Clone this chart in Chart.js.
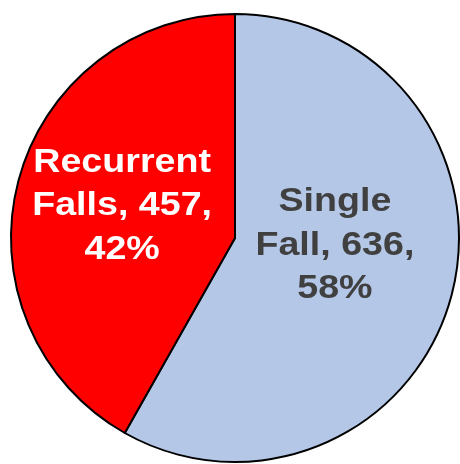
<!DOCTYPE html>
<html lang="en">
<head>
    <meta charset="UTF-8">
    <title>Falls</title>
    <script src="https://cdn.jsdelivr.net/npm/chart.js"></script>
    <style>
        body { margin: 0; background: #fff; }
    </style>
</head>
<body>
<canvas id="pieChart" width="460" height="464"></canvas>
<script>
    // data
    const labels = ['Single Fall', 'Recurrent Falls'];
    const counts = [636, 457];
    const percents = ['58%', '42%'];
    const labelLines = [['Single', 'Fall, 636,', '58%'], ['Recurrent', 'Falls, 457,', '42%']];
    const sliceColors = ['#B4C7E7', '#FF0000'];
    const textColors = ['#404040', '#FFFFFF'];
    // label centre, as fraction of radius from pie centre
    const labelOffsets = [[0.446, 0.022], [-0.504, -0.154]];

    // draws the multi-line labels inside each slice
    const sliceLabels = {
        id: 'sliceLabels',
        afterDatasetsDraw(chart) {
            const ctx = chart.ctx;
            const meta = chart.getDatasetMeta(0);
            const fontSize = 33;
            const lineHeight = 43.5;
            meta.data.forEach((arc, i) => {
                const r = arc.outerRadius;
                const cx = arc.x + labelOffsets[i][0] * r;
                const cy = arc.y + labelOffsets[i][1] * r;
                const lines = labelLines[i];
                ctx.save();
                ctx.fillStyle = textColors[i];
                ctx.font = 'bold ' + fontSize + 'px "Liberation Sans", Arial, sans-serif';
                ctx.textAlign = 'center';
                ctx.textBaseline = 'alphabetic';
                lines.forEach((line, j) => {
                    const y = cy + (j - (lines.length - 1) / 2) * lineHeight + 0.358 * fontSize;
                    ctx.save();
                    ctx.translate(cx, y);
                    ctx.scale(1.14, 1);
                    ctx.fillText(line, 0, 0);
                    ctx.restore();
                });
                ctx.restore();
            });
        }
    };

    new Chart(document.getElementById('pieChart'), {
        type: 'pie',
        data: {
            labels: labels,
            datasets: [{
                data: counts,
                backgroundColor: sliceColors,
                borderColor: '#000000',
                borderWidth: 2
            }]
        },
        options: {
            responsive: false,
            animation: false,
            layout: { padding: { left: 10, right: 0, top: 13, bottom: 1 } },
            plugins: {
                legend: { display: false },
                tooltip: { enabled: false }
            }
        },
        plugins: [sliceLabels]
    });
</script>
</body>
</html>
